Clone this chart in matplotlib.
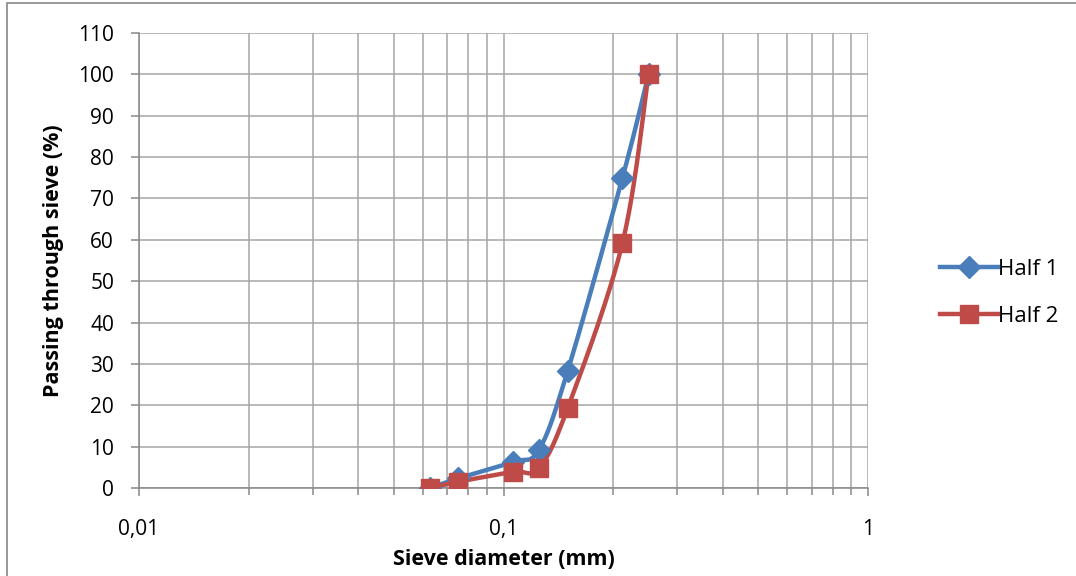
import numpy as np
import matplotlib
matplotlib.use("Agg")
import matplotlib.pyplot as plt
from matplotlib.patches import Rectangle
from matplotlib.lines import Line2D
from matplotlib.ticker import FixedLocator, LogLocator, NullFormatter, FuncFormatter

plt.rcParams['font.family'] = ['Open Sans', 'DejaVu Sans']

sieve_mm = [0.063, 0.075, 0.106, 0.125, 0.150, 0.212, 0.250]
half1 = [0.0, 2.3, 6.3, 9.2, 28.3, 75.0, 100.0]
half2 = [0.0, 1.5, 3.9, 4.8, 19.3, 59.2, 100.0]
series_names = ["Half 1", "Half 2"]
y_ticks = list(range(0, 111, 10))
x_ticks = [0.01, 0.1, 1]
x_tick_labels = ["0,01", "0,1", "1"]

blue = "#4a7ebb"
red = "#be4b48"

W, H = 1076, 576
fig = plt.figure(figsize=(W / 100, H / 100), dpi=100)
ax = fig.add_axes([139 / W, 1 - 488 / H, (868 - 139) / W, (488 - 33) / H])

# chart border
fig.patches.append(Rectangle((7 / W, -0.05), 1.2, 1 - 3 / H + 0.05, transform=fig.transFigure,
                             fill=False, edgecolor="#888888", lw=1.2))


def smooth(xs, ys, n=30):
    lx = np.log10(np.asarray(xs, float))
    yy = np.asarray(ys, float)
    sx, sy = 364.5, 4.136
    P = np.column_stack([lx * sx, yy * sy])
    pts = [P[0]]
    for i in range(len(P) - 1):
        p0 = P[i - 1] if i > 0 else P[i]
        p1 = P[i]
        p2 = P[i + 1]
        p3 = P[i + 2] if i + 2 < len(P) else P[i + 1]
        c1 = p1 + (p2 - p0) / 6.0
        c2 = p2 - (p3 - p1) / 6.0
        t = np.linspace(0, 1, n)[1:, None]
        b = (1 - t) ** 3 * p1 + 3 * (1 - t) ** 2 * t * c1 + 3 * (1 - t) * t ** 2 * c2 + t ** 3 * p2
        pts.extend(b)
    pts = np.array(pts)
    return 10 ** (pts[:, 0] / sx), pts[:, 1] / sy


for ys, col, mk, ms in [(half1, blue, "D", 11.5), (half2, red, "s", 13.5)]:
    sx_, sy_ = smooth(sieve_mm, ys)
    ax.plot(sx_, sy_, color=col, lw=3.2, solid_capstyle="round", zorder=3)
    ax.plot(sieve_mm, ys, linestyle="none", marker=mk, ms=ms, color=col, zorder=4)

ax.set_xscale("log")
ax.set_xlim(0.01, 1)
ax.set_ylim(0, 110)
ax.xaxis.set_major_locator(FixedLocator(x_ticks))
ax.xaxis.set_major_formatter(FuncFormatter(lambda v, p: x_tick_labels[x_ticks.index(v)] if v in x_ticks else ""))
ax.xaxis.set_minor_locator(LogLocator(base=10, subs=np.arange(2, 10)))
ax.xaxis.set_minor_formatter(NullFormatter())
ax.set_yticks(y_ticks)

ax.grid(True, which="major", color="#a6a6a6", lw=1.1)
ax.grid(True, which="minor", axis="x", color="#a6a6a6", lw=1.1)
for s in ["top", "right"]:
    ax.spines[s].set_visible(False)
for s in ["left", "bottom"]:
    ax.spines[s].set_color("#888888")
    ax.spines[s].set_linewidth(1.1)
ax.tick_params(which="both", direction="out", color="#888888", width=1.1)
ax.tick_params(which="major", length=6, labelsize=15)
ax.tick_params(which="minor", length=5)
ax.tick_params(axis="y", which="major", pad=12)
ax.tick_params(axis="x", which="major", pad=16)

ax.set_xlabel("Sieve diameter (mm)", fontsize=15.5, fontweight="bold", labelpad=7)
ax.set_ylabel("Passing through sieve (%)", fontsize=15.5, fontweight="bold", labelpad=10)

handles = [Line2D([], [], color=blue, lw=3.2, marker="D", ms=11.5),
           Line2D([], [], color=red, lw=3.2, marker="s", ms=13.5)]
fig.legend(handles, series_names, loc="center left", bbox_to_anchor=(940 / W, 1 - 293 / H),
           frameon=False, fontsize=16, handlelength=2.6, handletextpad=0.0, labelspacing=1.15,
           borderpad=0, borderaxespad=0)

fig.savefig("out.png", dpi=100, facecolor="white")
